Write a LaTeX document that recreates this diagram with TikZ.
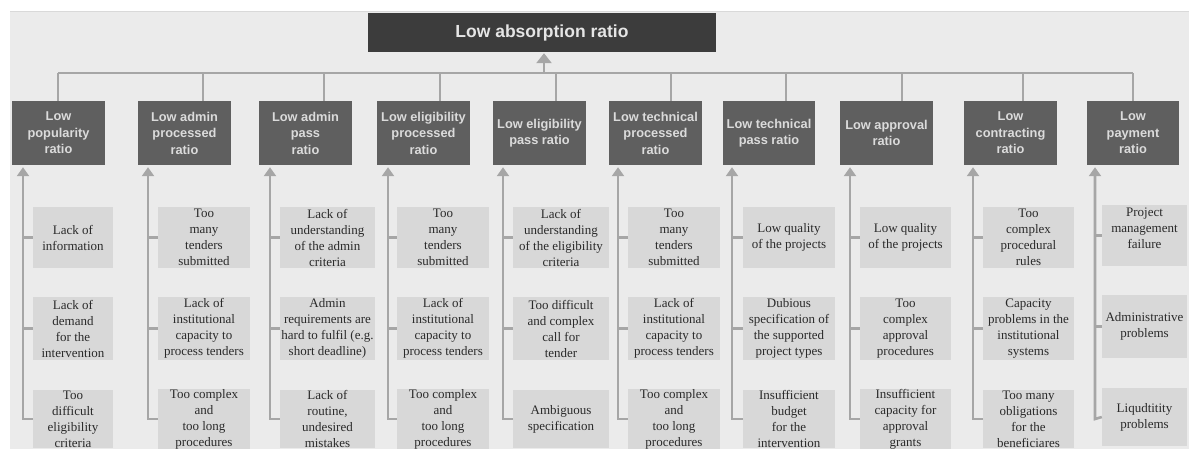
\documentclass[tikz,border=0pt]{standalone}
\usepackage{fontspec}
\setmainfont{Liberation Serif}
\newfontfamily\hsans{Liberation Sans}
\usetikzlibrary{arrows.meta}
\definecolor{bgc}{HTML}{EBEBEB}
\definecolor{leafc}{HTML}{D8D8D8}
\definecolor{darkc}{HTML}{5F5F5F}
\definecolor{titlec}{HTML}{3C3C3C}
\definecolor{linec}{HTML}{A6A6A6}
\definecolor{leaftext}{HTML}{2A2A2A}
\tikzset{
  titlebox/.style={fill=titlec, text=white!90!black, font=\hsans\bfseries\fontsize{17.5}{20}\selectfont, inner sep=0pt, minimum width=348pt, minimum height=39pt},
  darkbox/.style={fill=darkc, text=white!86!black, font=\hsans\bfseries\fontsize{12.8}{16.5}\selectfont, align=center, inner sep=0pt, minimum height=64pt},
  leafbox/.style={fill=leafc, text=leaftext, font=\fontsize{13}{16}\selectfont, align=center, inner xsep=0pt, inner ysep=0pt},
  conn/.style={draw=linec, line width=2.6pt},
  upar/.style={conn, -{Triangle[width=12pt,length=9pt]}, shorten >=2pt},
  bigar/.style={conn, -{Triangle[width=15pt,length=10pt]}, shorten >=1pt}
}
\begin{document}
\begin{tikzpicture}[x=1pt,y=-1pt]
\useasboundingbox (0,0) rectangle (1189,448);
\clip (0,0) rectangle (1189,448);
\fill[bgc] (10,11) rectangle (1189,450);
\draw[white!85!black, line width=0.6pt] (10,11) -- (1189,11);

% title
\node[titlebox] (T) at (542,32.5) {Low absorption ratio};

% level 2 boxes
\node[darkbox, minimum width=93pt] (L1) at (58.5,133) {Low\\popularity\\ratio};
\node[darkbox, minimum width=93pt] (L2) at (184.5,133) {Low admin\\processed\\ratio};
\node[darkbox, minimum width=93pt] (L3) at (305.5,133) {Low admin\\pass\\ratio};
\node[darkbox, minimum width=93pt] (L4) at (423.5,133) {Low eligibility\\processed\\ratio};
\node[darkbox, minimum width=93pt] (L5) at (539.5,133) {Low eligibility\\pass ratio};
\node[darkbox, minimum width=93pt] (L6) at (655.5,133) {Low technical\\processed\\ratio};
\node[darkbox, minimum width=92pt] (L7) at (769,133) {Low technical\\pass ratio};
\node[darkbox, minimum width=93pt] (L8) at (886.5,133) {Low approval\\ratio};
\node[darkbox, minimum width=93pt] (L9) at (1010.5,133) {Low\\contracting\\ratio};
\node[darkbox, minimum width=92pt] (L10) at (1133,133) {Low\\payment\\ratio};

% bus
\coordinate (b1) at (58,73);
\coordinate (b2) at (203,73);
\coordinate (b3) at (324,73);
\coordinate (b4) at (440,73);
\coordinate (b5) at (556,73);
\coordinate (b6) at (671,73);
\coordinate (b7) at (786,73);
\coordinate (b8) at (902,73);
\coordinate (b9) at (1023,73);
\coordinate (b10) at (1133,73);
\coordinate (bt) at (544,73);
\draw[conn] (b1) -- (b10);
\foreach \i in {1,...,10} {\draw[conn] (b\i) -- (b\i |- L\i.north);}
\draw[bigar] (bt) -- (bt |- T.south);

% leaf boxes
\newcommand{\leafcol}[8]{%
  \node[leafbox, minimum width=#2pt, minimum height=61pt] (R1c#1) at (#3,#8+237.5) {#5};
  \node[leafbox, minimum width=#2pt, minimum height=63pt] (R2c#1) at (#3,#8+328.5) {#6};
  \node[leafbox, minimum width=#2pt, minimum height=58pt] (R3c#1) at (#3,#8+419) {#7};
  \coordinate (K#1) at (#4,419);
  \draw[upar] (R3c#1.west) -- (K#1) -- (K#1 |- L#1.south);
  \draw[conn] (R1c#1.west) -- (R1c#1.west -| K#1);
  \draw[conn] (R2c#1.west) -- (R2c#1.west -| K#1);
}
\leafcol{1}{80}{73}{23}{Lack of\\information}{Lack of\\demand\\for the\\intervention}{Too\\difficult\\eligibility\\criteria}{0}
\leafcol{2}{92}{204}{148}{Too\\many\\tenders\\submitted}{Lack of\\institutional\\capacity to\\process tenders}{Too complex\\and\\too long\\procedures}{0}
\leafcol{3}{95}{327.5}{270}{Lack of\\understanding\\of the admin\\criteria}{Admin\\requirements are\\hard to fulfil (e.g.\\short deadline)}{Lack of\\routine,\\undesired\\mistakes}{0}
\leafcol{4}{92}{443}{388}{Too\\many\\tenders\\submitted}{Lack of\\institutional\\capacity to\\process tenders}{Too complex\\and\\too long\\procedures}{0}
\leafcol{5}{96}{561}{503}{Lack of\\understanding\\of the eligibility\\criteria}{Too difficult\\and complex\\call for\\tender}{Ambiguous\\specification}{0}
\leafcol{6}{92}{674}{618}{Too\\many\\tenders\\submitted}{Lack of\\institutional\\capacity to\\process tenders}{Too complex\\and\\too long\\procedures}{0}
\leafcol{7}{92}{789}{732}{Low quality\\of the projects}{Dubious\\specification of\\the supported\\project types}{Insufficient\\budget\\for the\\intervention}{0}
\leafcol{8}{91}{905.5}{850}{Low quality\\of the projects}{Too\\complex\\approval\\procedures}{Insufficient\\capacity for\\approval\\grants}{0}
\leafcol{9}{91}{1028.5}{973}{Too\\complex\\procedural\\rules}{Capacity\\problems in the\\institutional\\systems}{Too many\\obligations\\for the\\beneficiares}{0}
\leafcol{10}{85}{1144.5}{1095}{Project\\management\\failure\\[-1pt]}{Administrative\\problems}{Liqudtitity\\problems}{-2}
\end{tikzpicture}
\end{document}
